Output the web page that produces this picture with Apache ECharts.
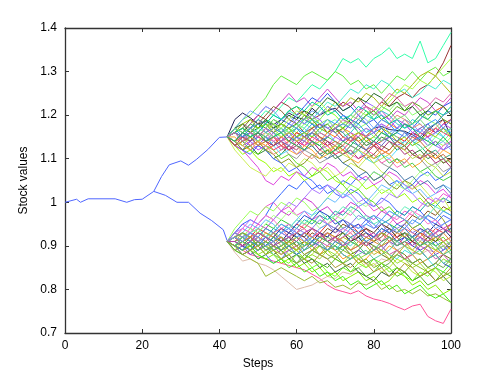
<!DOCTYPE html>
<html>
<head>
<meta charset="utf-8">
<script src="https://cdn.jsdelivr.net/npm/echarts@6/dist/echarts.min.js"></script>
<style>
  html, body { margin: 0; padding: 0; background: #fff; }
  #main { width: 498px; height: 375px; }
</style>
</head>
<body>
<div id="main"></div>
<script>
// trunk before the split (single blue path)
var trunkX = [0, 3, 4, 6, 13, 16, 18, 20, 23, 26, 29, 32, 35, 38, 41, 42];
var trunkY = [1.0, 1.007, 1.0, 1.008, 1.008, 1.0, 1.006, 1.007, 1.025, 1.016, 1.0, 1.0, 0.975, 0.958, 0.937, 0.912];
var branchX = [23, 25, 27, 30, 32, 34, 37, 40, 42];
var branchY = [1.025, 1.059, 1.086, 1.095, 1.085, 1.098, 1.121, 1.149, 1.15];

// steps of the simulated paths after the split
var steps = [42, 44, 46, 48, 50, 52, 54, 56, 58, 60, 62, 64, 66, 68, 70, 72, 74, 76, 78, 80, 82, 84, 86, 88, 90, 92, 94, 96, 98, 100];

var upperPaths = [
  [1.15,1.16,1.18,1.17,1.19,1.21,1.20,1.22,1.24,1.23,1.25,1.27,1.26,1.28,1.30,1.33,1.32,1.33,1.31,1.33,1.34,1.355,1.33,1.34,1.33,1.37,1.32,1.33,1.36,1.39],
  [1.15,1.17,1.19,1.20,1.22,1.24,1.27,1.29,1.28,1.27,1.29,1.30,1.29,1.28,1.30,1.29,1.27,1.28,1.26,1.27,1.25,1.27,1.29,1.28,1.30,1.28,1.30,1.31,1.29,1.30],
  [1.15,1.14,1.16,1.18,1.20,1.19,1.21,1.23,1.22,1.20,1.21,1.19,1.20,1.22,1.21,1.23,1.22,1.24,1.22,1.21,1.23,1.22,1.24,1.25,1.24,1.26,1.27,1.29,1.32,1.36],
  [1.15,1.19,1.205,1.194,1.18,1.185,1.178,1.19,1.205,1.195,1.19,1.216,1.20,1.21,1.216,1.20,1.183,1.16,1.151,1.17,1.174,1.167,1.165,1.163,1.155,1.144,1.165,1.18,1.19,1.151],
  [1.15,1.13,1.15,1.17,1.16,1.18,1.17,1.19,1.21,1.22,1.20,1.18,1.19,1.21,1.23,1.22,1.24,1.23,1.25,1.24,1.22,1.24,1.26,1.25,1.27,1.29,1.30,1.29,1.27,1.25],
  [1.15,1.17,1.16,1.18,1.20,1.22,1.21,1.23,1.25,1.23,1.24,1.22,1.24,1.26,1.24,1.22,1.23,1.21,1.22,1.20,1.21,1.19,1.21,1.20,1.22,1.24,1.23,1.21,1.22,1.24],
  [1.15,1.14,1.12,1.14,1.16,1.15,1.17,1.19,1.18,1.20,1.22,1.24,1.23,1.25,1.23,1.21,1.22,1.20,1.18,1.19,1.17,1.15,1.16,1.18,1.17,1.19,1.21,1.20,1.22,1.23],
  [1.15,1.16,1.14,1.15,1.13,1.14,1.16,1.15,1.17,1.16,1.18,1.17,1.19,1.21,1.20,1.18,1.19,1.17,1.18,1.20,1.22,1.21,1.23,1.22,1.20,1.21,1.19,1.18,1.20,1.21],
  [1.15,1.14,1.15,1.13,1.14,1.12,1.13,1.15,1.14,1.16,1.15,1.13,1.14,1.16,1.15,1.17,1.16,1.14,1.15,1.17,1.16,1.18,1.17,1.19,1.18,1.20,1.19,1.21,1.22,1.20],
  [1.15,1.13,1.14,1.16,1.15,1.17,1.15,1.16,1.14,1.15,1.17,1.19,1.18,1.16,1.17,1.15,1.16,1.18,1.20,1.19,1.21,1.20,1.18,1.17,1.19,1.18,1.16,1.17,1.15,1.17],
  [1.15,1.16,1.14,1.12,1.13,1.15,1.14,1.12,1.13,1.11,1.12,1.14,1.13,1.15,1.17,1.16,1.18,1.17,1.15,1.16,1.14,1.15,1.13,1.14,1.16,1.15,1.13,1.14,1.12,1.13],
  [1.15,1.13,1.12,1.13,1.11,1.12,1.10,1.11,1.13,1.12,1.14,1.13,1.11,1.12,1.10,1.11,1.13,1.12,1.14,1.13,1.15,1.14,1.12,1.13,1.11,1.12,1.10,1.11,1.09,1.10],
  [1.15,1.16,1.15,1.17,1.16,1.14,1.15,1.13,1.14,1.16,1.15,1.17,1.18,1.16,1.17,1.15,1.14,1.16,1.15,1.13,1.14,1.16,1.15,1.14,1.16,1.15,1.17,1.16,1.18,1.19],
  [1.15,1.14,1.16,1.15,1.13,1.12,1.14,1.13,1.11,1.10,1.12,1.11,1.09,1.10,1.12,1.11,1.13,1.12,1.10,1.11,1.09,1.08,1.10,1.09,1.11,1.10,1.08,1.09,1.07,1.08],
  [1.15,1.13,1.11,1.12,1.10,1.09,1.07,1.08,1.06,1.07,1.05,1.06,1.08,1.07,1.05,1.04,1.06,1.05,1.03,1.04,1.02,1.03,1.01,1.02,1.00,1.01,0.99,1.00,0.98,0.99],
  [1.15,1.13,1.12,1.10,1.08,1.05,1.04,1.06,1.05,1.07,1.06,1.08,1.07,1.09,1.08,1.06,1.07,1.05,1.06,1.04,1.05,1.07,1.06,1.04,1.03,1.05,1.04,1.02,1.03,1.01],
  [1.15,1.12,1.10,1.08,1.07,1.06,1.08,1.07,1.09,1.08,1.10,1.09,1.07,1.08,1.06,1.07,1.09,1.08,1.10,1.09,1.07,1.06,1.04,1.05,1.03,1.04,1.02,1.00,1.01,0.98],
  [1.15,1.14,1.12,1.11,1.13,1.12,1.10,1.09,1.07,1.08,1.06,1.05,1.03,1.04,1.02,1.01,1.03,1.02,1.00,0.99,1.01,1.00,0.98,0.97,0.99,0.98,0.96,0.95,0.97,0.96],
  [1.15,1.16,1.18,1.17,1.15,1.16,1.14,1.15,1.13,1.12,1.14,1.13,1.15,1.14,1.12,1.13,1.11,1.10,1.12,1.11,1.09,1.10,1.08,1.09,1.11,1.10,1.12,1.11,1.13,1.14],
  [1.15,1.17,1.16,1.18,1.17,1.19,1.18,1.16,1.17,1.15,1.16,1.14,1.13,1.15,1.14,1.12,1.11,1.13,1.12,1.10,1.11,1.09,1.10,1.08,1.09,1.07,1.08,1.06,1.05,1.06],
  [1.15,1.17,1.19,1.21,1.20,1.22,1.21,1.19,1.20,1.18,1.19,1.21,1.20,1.22,1.21,1.19,1.18,1.20,1.19,1.17,1.18,1.16,1.17,1.19,1.18,1.16,1.15,1.13,1.14,1.12],
  [1.15,1.16,1.17,1.19,1.18,1.20,1.22,1.21,1.19,1.18,1.16,1.17,1.15,1.14,1.12,1.13,1.11,1.12,1.10,1.11,1.13,1.12,1.14,1.13,1.11,1.10,1.12,1.11,1.09,1.10],
  [1.15,1.14,1.13,1.15,1.17,1.18,1.20,1.19,1.21,1.20,1.18,1.19,1.21,1.23,1.22,1.24,1.26,1.25,1.27,1.26,1.28,1.27,1.25,1.26,1.24,1.25,1.27,1.26,1.28,1.27],
  [1.15,1.16,1.14,1.13,1.15,1.14,1.16,1.18,1.17,1.19,1.18,1.20,1.19,1.17,1.18,1.20,1.19,1.21,1.23,1.22,1.20,1.19,1.17,1.18,1.16,1.14,1.15,1.13,1.12,1.14],
  [1.15,1.14,1.12,1.13,1.14,1.12,1.11,1.09,1.10,1.08,1.09,1.11,1.10,1.12,1.11,1.09,1.10,1.08,1.07,1.05,1.06,1.04,1.03,1.05,1.04,1.02,1.00,0.98,0.96,0.93],
  [1.15,1.13,1.14,1.12,1.11,1.13,1.12,1.10,1.11,1.09,1.08,1.06,1.07,1.05,1.06,1.04,1.02,1.03,1.01,1.00,0.98,0.99,0.97,0.96,0.94,0.95,0.93,0.91,0.92,0.90],
  [1.15,1.16,1.15,1.14,1.16,1.15,1.13,1.14,1.16,1.17,1.19,1.18,1.16,1.15,1.17,1.16,1.14,1.13,1.15,1.14,1.16,1.15,1.13,1.12,1.14,1.13,1.11,1.12,1.10,1.11],
  [1.15,1.17,1.18,1.16,1.17,1.19,1.17,1.18,1.20,1.19,1.21,1.20,1.22,1.24,1.23,1.21,1.22,1.24,1.23,1.25,1.24,1.22,1.23,1.21,1.22,1.20,1.21,1.23,1.22,1.20],
  [1.15,1.14,1.16,1.17,1.19,1.18,1.16,1.17,1.15,1.14,1.12,1.13,1.11,1.10,1.11,1.09,1.08,1.06,1.07,1.05,1.06,1.08,1.07,1.05,1.06,1.04,1.05,1.03,1.04,1.02],
  [1.15,1.13,1.15,1.16,1.14,1.16,1.18,1.17,1.19,1.21,1.20,1.22,1.23,1.21,1.20,1.18,1.19,1.21,1.20,1.22,1.21,1.23,1.25,1.27,1.26,1.28,1.27,1.29,1.31,1.33],
  [1.15,1.16,1.15,1.13,1.14,1.13,1.11,1.12,1.14,1.13,1.11,1.10,1.12,1.11,1.13,1.15,1.14,1.16,1.15,1.17,1.19,1.18,1.20,1.19,1.17,1.18,1.16,1.17,1.19,1.18],
  [1.15,1.14,1.15,1.17,1.16,1.14,1.13,1.11,1.12,1.14,1.16,1.15,1.17,1.16,1.14,1.13,1.11,1.12,1.10,1.09,1.11,1.10,1.12,1.14,1.13,1.15,1.14,1.16,1.15,1.17],
  [1.15,1.16,1.14,1.15,1.17,1.16,1.15,1.17,1.16,1.18,1.17,1.15,1.16,1.18,1.19,1.17,1.18,1.16,1.17,1.15,1.14,1.16,1.15,1.13,1.14,1.12,1.13,1.15,1.14,1.16],
  [1.15,1.14,1.13,1.14,1.12,1.13,1.15,1.14,1.16,1.15,1.13,1.14,1.12,1.13,1.15,1.14,1.16,1.15,1.17,1.16,1.18,1.17,1.19,1.18,1.16,1.17,1.15,1.16,1.18,1.17],
  [1.15,1.16,1.17,1.16,1.18,1.17,1.19,1.18,1.17,1.18,1.20,1.19,1.17,1.18,1.16,1.17,1.19,1.18,1.20,1.21,1.19,1.20,1.22,1.21,1.23,1.22,1.20,1.21,1.19,1.18],
  [1.15,1.14,1.15,1.16,1.15,1.14,1.12,1.13,1.12,1.14,1.13,1.15,1.14,1.13,1.11,1.12,1.14,1.15,1.13,1.14,1.12,1.11,1.13,1.12,1.14,1.16,1.15,1.17,1.16,1.15],
  [1.15,1.17,1.15,1.16,1.14,1.15,1.13,1.14,1.15,1.17,1.16,1.18,1.17,1.19,1.18,1.20,1.19,1.18,1.16,1.17,1.19,1.18,1.16,1.15,1.17,1.16,1.18,1.19,1.17,1.16],
  [1.15,1.16,1.18,1.19,1.17,1.18,1.16,1.18,1.17,1.15,1.16,1.15,1.17,1.16,1.18,1.17,1.15,1.16,1.14,1.15,1.17,1.16,1.14,1.15,1.13,1.14,1.16,1.15,1.17,1.15],
  [1.15,1.13,1.14,1.15,1.13,1.14,1.13,1.15,1.16,1.14,1.15,1.16,1.15,1.13,1.14,1.13,1.15,1.14,1.12,1.13,1.11,1.12,1.14,1.13,1.15,1.14,1.12,1.10,1.11,1.09],
  [1.15,1.16,1.17,1.15,1.16,1.18,1.20,1.19,1.21,1.22,1.21,1.23,1.22,1.20,1.21,1.19,1.20,1.22,1.21,1.19,1.20,1.18,1.19,1.17,1.18,1.20,1.19,1.21,1.20,1.22],
  [1.15,1.14,1.16,1.14,1.15,1.17,1.16,1.14,1.13,1.15,1.14,1.16,1.18,1.17,1.16,1.14,1.15,1.13,1.12,1.14,1.13,1.15,1.14,1.16,1.15,1.17,1.18,1.16,1.17,1.19],
  [1.15,1.15,1.13,1.12,1.14,1.13,1.15,1.14,1.12,1.11,1.13,1.12,1.10,1.11,1.13,1.12,1.10,1.09,1.11,1.10,1.12,1.11,1.09,1.10,1.08,1.09,1.11,1.10,1.12,1.11],
  [1.15,1.17,1.16,1.17,1.15,1.17,1.19,1.18,1.16,1.17,1.19,1.20,1.18,1.19,1.17,1.18,1.20,1.19,1.21,1.20,1.22,1.21,1.19,1.20,1.18,1.19,1.17,1.18,1.16,1.17],
  [1.15,1.13,1.15,1.14,1.16,1.14,1.13,1.14,1.12,1.13,1.15,1.14,1.12,1.14,1.13,1.11,1.12,1.10,1.11,1.13,1.12,1.14,1.13,1.11,1.12,1.10,1.11,1.09,1.10,1.08],
  [1.15,1.16,1.15,1.17,1.18,1.16,1.17,1.16,1.18,1.17,1.15,1.16,1.14,1.15,1.17,1.18,1.17,1.19,1.18,1.16,1.17,1.15,1.17,1.16,1.14,1.15,1.17,1.18,1.20,1.21],
  [1.15,1.14,1.13,1.15,1.14,1.15,1.17,1.15,1.16,1.14,1.15,1.13,1.14,1.12,1.13,1.11,1.10,1.12,1.11,1.09,1.10,1.11,1.13,1.12,1.10,1.11,1.09,1.08,1.06,1.07],
  [1.15,1.16,1.14,1.16,1.15,1.17,1.15,1.14,1.15,1.13,1.12,1.14,1.16,1.15,1.17,1.19,1.18,1.20,1.22,1.21,1.23,1.25,1.24,1.22,1.23,1.21,1.22,1.24,1.23,1.25],
  [1.15,1.14,1.16,1.15,1.16,1.14,1.15,1.16,1.14,1.13,1.12,1.14,1.13,1.11,1.12,1.14,1.13,1.15,1.13,1.14,1.16,1.15,1.16,1.18,1.17,1.15,1.14,1.13,1.15,1.13]
];

var lowerPaths = [
  [0.91,0.90,0.89,0.88,0.875,0.87,0.865,0.86,0.855,0.85,0.845,0.835,0.825,0.81,0.80,0.795,0.79,0.797,0.785,0.778,0.774,0.768,0.76,0.753,0.762,0.766,0.738,0.728,0.722,0.755],
  [0.91,0.885,0.865,0.87,0.86,0.855,0.845,0.83,0.815,0.80,0.805,0.81,0.82,0.83,0.825,0.84,0.835,0.85,0.86,0.855,0.87,0.865,0.88,0.87,0.885,0.88,0.89,0.885,0.90,0.895],
  [0.91,0.89,0.88,0.87,0.86,0.83,0.84,0.85,0.84,0.83,0.82,0.83,0.815,0.82,0.805,0.81,0.80,0.815,0.81,0.82,0.80,0.81,0.795,0.80,0.79,0.80,0.785,0.79,0.78,0.77],
  [0.91,0.90,0.89,0.90,0.88,0.87,0.88,0.86,0.87,0.85,0.86,0.84,0.85,0.83,0.84,0.82,0.83,0.84,0.82,0.83,0.81,0.82,0.84,0.83,0.81,0.82,0.80,0.81,0.79,0.80],
  [0.91,0.92,0.90,0.91,0.89,0.90,0.88,0.89,0.87,0.88,0.86,0.87,0.85,0.86,0.84,0.85,0.86,0.84,0.83,0.82,0.84,0.83,0.85,0.84,0.82,0.83,0.84,0.82,0.83,0.81],
  [0.91,0.93,0.95,0.94,0.97,0.99,1.00,0.98,0.99,0.97,0.98,0.96,0.97,0.95,0.96,0.98,0.97,0.99,1.00,0.98,0.99,0.97,0.96,0.98,0.97,0.99,1.01,1.00,1.02,1.01],
  [0.91,0.93,0.95,0.96,0.95,0.97,1.00,1.02,1.04,1.03,1.05,1.03,1.04,1.02,1.03,1.05,1.04,1.06,1.05,1.07,1.06,1.04,1.05,1.03,1.04,1.06,1.07,1.05,1.06,1.08],
  [0.91,0.94,0.96,0.98,0.97,0.99,0.98,1.00,0.99,1.01,1.00,0.98,0.99,1.01,1.03,1.02,1.04,1.03,1.05,1.07,1.06,1.08,1.10,1.09,1.11,1.10,1.12,1.14,1.13,1.15],
  [0.91,0.92,0.94,0.93,0.95,0.94,0.96,0.98,0.97,0.99,1.01,1.00,0.98,0.99,0.97,0.98,1.00,0.99,0.97,0.96,0.98,0.97,0.95,0.96,0.94,0.95,0.97,0.96,0.94,0.95],
  [0.91,0.92,0.91,0.93,0.92,0.94,0.93,0.91,0.92,0.90,0.91,0.93,0.92,0.94,0.93,0.95,0.94,0.92,0.93,0.91,0.92,0.94,0.93,0.95,0.97,0.96,0.98,0.97,0.99,0.98],
  [0.91,0.90,0.92,0.91,0.93,0.92,0.91,0.92,0.90,0.89,0.91,0.90,0.92,0.91,0.89,0.90,0.88,0.89,0.91,0.90,0.88,0.87,0.89,0.88,0.86,0.87,0.85,0.86,0.88,0.87],
  [0.91,0.89,0.90,0.88,0.89,0.91,0.90,0.92,0.91,0.93,0.92,0.90,0.91,0.89,0.90,0.88,0.87,0.89,0.88,0.90,0.89,0.91,0.90,0.92,0.91,0.89,0.90,0.88,0.89,0.91],
  [0.91,0.92,0.91,0.90,0.89,0.90,0.88,0.87,0.88,0.86,0.87,0.89,0.88,0.90,0.89,0.91,0.90,0.92,0.91,0.89,0.90,0.88,0.87,0.89,0.88,0.86,0.87,0.85,0.84,0.86],
  [0.91,0.93,0.92,0.94,0.93,0.95,0.94,0.96,0.95,0.93,0.94,0.96,0.95,0.97,0.96,0.94,0.95,0.93,0.94,0.92,0.93,0.95,0.94,0.92,0.91,0.93,0.92,0.90,0.91,0.89],
  [0.91,0.90,0.88,0.89,0.87,0.88,0.86,0.87,0.89,0.88,0.90,0.91,0.93,0.92,0.94,0.93,0.95,0.94,0.96,0.95,0.93,0.94,0.92,0.93,0.91,0.92,0.90,0.91,0.89,0.90],
  [0.91,0.92,0.93,0.92,0.94,0.93,0.92,0.94,0.93,0.95,0.94,0.92,0.93,0.95,0.94,0.96,0.95,0.93,0.94,0.92,0.93,0.91,0.92,0.90,0.91,0.93,0.92,0.94,0.93,0.95],
  [0.91,0.89,0.91,0.90,0.92,0.91,0.89,0.90,0.88,0.89,0.87,0.88,0.90,0.89,0.87,0.86,0.88,0.87,0.85,0.86,0.84,0.85,0.87,0.86,0.84,0.83,0.85,0.84,0.82,0.83],
  [0.91,0.92,0.90,0.91,0.93,0.92,0.94,0.93,0.95,0.94,0.96,0.95,0.97,0.96,0.98,0.97,0.99,0.98,0.96,0.97,0.95,0.96,0.98,0.97,0.99,0.98,1.00,0.99,1.01,1.00],
  [0.91,0.90,0.91,0.89,0.90,0.92,0.91,0.93,0.92,0.91,0.89,0.90,0.88,0.89,0.91,0.90,0.92,0.91,0.93,0.92,0.90,0.91,0.89,0.90,0.92,0.91,0.93,0.92,0.90,0.91],
  [0.91,0.93,0.94,0.96,0.95,0.97,0.96,0.98,1.00,0.99,1.01,1.03,1.02,1.04,1.03,1.01,1.02,1.00,1.01,0.99,1.00,1.02,1.01,1.03,1.02,1.00,0.99,1.01,1.00,1.02],
  [0.91,0.92,0.90,0.91,0.89,0.90,0.91,0.89,0.90,0.92,0.91,0.89,0.88,0.90,0.89,0.87,0.88,0.86,0.87,0.89,0.88,0.90,0.89,0.87,0.88,0.86,0.87,0.89,0.88,0.90],
  [0.91,0.90,0.92,0.94,0.93,0.95,0.97,0.96,0.98,0.97,0.95,0.96,0.94,0.95,0.97,0.96,0.98,1.00,0.99,1.01,1.03,1.02,1.04,1.03,1.05,1.07,1.06,1.08,1.10,1.09],
  [0.91,0.91,0.90,0.92,0.91,0.90,0.92,0.91,0.93,0.92,0.90,0.91,0.93,0.92,0.94,0.93,0.91,0.92,0.90,0.91,0.93,0.92,0.91,0.93,0.92,0.94,0.93,0.95,0.94,0.92],
  [0.91,0.89,0.88,0.89,0.87,0.88,0.90,0.89,0.87,0.86,0.88,0.87,0.86,0.85,0.87,0.86,0.84,0.85,0.83,0.84,0.86,0.85,0.83,0.84,0.82,0.83,0.81,0.82,0.84,0.83],
  [0.91,0.92,0.94,0.93,0.95,0.97,0.96,0.94,0.95,0.93,0.94,0.92,0.93,0.91,0.92,0.94,0.93,0.95,0.94,0.92,0.93,0.95,0.97,0.96,0.98,0.97,0.95,0.96,0.94,0.93],
  [0.91,0.90,0.89,0.91,0.90,0.88,0.89,0.87,0.86,0.88,0.87,0.85,0.86,0.84,0.83,0.85,0.84,0.86,0.85,0.87,0.86,0.84,0.85,0.83,0.82,0.84,0.83,0.85,0.84,0.86],
  [0.91,0.92,0.93,0.95,0.94,0.96,0.95,0.93,0.94,0.96,0.98,0.97,0.99,1.01,1.00,1.02,1.01,0.99,1.00,1.02,1.04,1.03,1.05,1.04,1.02,1.03,1.01,1.02,1.04,1.03],
  [0.91,0.90,0.91,0.92,0.90,0.91,0.89,0.90,0.91,0.93,0.92,0.94,0.93,0.91,0.92,0.93,0.91,0.92,0.94,0.93,0.95,0.94,0.92,0.93,0.91,0.90,0.92,0.91,0.93,0.94],
  [0.91,0.92,0.91,0.93,0.94,0.92,0.93,0.95,0.94,0.96,0.95,0.97,0.98,0.96,0.97,0.99,0.98,0.96,0.97,0.95,0.96,0.98,0.97,0.99,0.98,0.96,0.97,0.99,0.98,0.97],
  [0.91,0.90,0.89,0.90,0.88,0.87,0.86,0.87,0.85,0.86,0.84,0.85,0.83,0.84,0.82,0.83,0.81,0.82,0.80,0.81,0.82,0.80,0.81,0.79,0.80,0.81,0.79,0.78,0.79,0.77],
  [0.91,0.92,0.90,0.89,0.91,0.90,0.92,0.94,0.93,0.95,0.97,0.96,0.98,0.97,0.95,0.96,0.94,0.95,0.93,0.92,0.94,0.93,0.91,0.92,0.90,0.89,0.87,0.88,0.86,0.85],
  [0.91,0.91,0.93,0.92,0.91,0.93,0.92,0.90,0.91,0.89,0.90,0.92,0.91,0.93,0.92,0.90,0.89,0.91,0.90,0.88,0.89,0.87,0.88,0.90,0.89,0.91,0.90,0.92,0.91,0.89],
  [0.91,0.92,0.91,0.90,0.92,0.91,0.93,0.92,0.91,0.92,0.90,0.91,0.90,0.92,0.91,0.93,0.92,0.90,0.91,0.89,0.90,0.92,0.91,0.93,0.92,0.90,0.91,0.89,0.90,0.88],
  [0.91,0.90,0.91,0.92,0.91,0.89,0.90,0.88,0.89,0.90,0.88,0.89,0.91,0.90,0.92,0.91,0.89,0.90,0.91,0.89,0.90,0.88,0.89,0.87,0.88,0.90,0.89,0.87,0.88,0.86],
  [0.91,0.92,0.93,0.91,0.92,0.94,0.93,0.95,0.94,0.92,0.93,0.91,0.92,0.93,0.91,0.92,0.94,0.93,0.95,0.94,0.96,0.95,0.93,0.94,0.96,0.95,0.97,0.96,0.98,0.97],
  [0.91,0.90,0.89,0.90,0.91,0.90,0.89,0.88,0.90,0.89,0.91,0.90,0.88,0.89,0.90,0.92,0.91,0.90,0.92,0.91,0.93,0.92,0.90,0.91,0.89,0.88,0.90,0.89,0.91,0.92],
  [0.91,0.91,0.92,0.90,0.91,0.89,0.90,0.91,0.89,0.88,0.87,0.89,0.88,0.87,0.88,0.86,0.87,0.88,0.86,0.87,0.85,0.86,0.88,0.87,0.86,0.87,0.85,0.86,0.85,0.87],
  [0.91,0.92,0.90,0.91,0.92,0.91,0.93,0.94,0.92,0.93,0.95,0.94,0.92,0.93,0.91,0.92,0.93,0.91,0.90,0.92,0.91,0.93,0.92,0.94,0.93,0.92,0.94,0.93,0.91,0.92],
  [0.91,0.90,0.92,0.91,0.90,0.91,0.89,0.90,0.92,0.91,0.90,0.92,0.91,0.89,0.90,0.88,0.87,0.88,0.89,0.87,0.88,0.89,0.91,0.90,0.88,0.89,0.87,0.88,0.86,0.87],
  [0.91,0.93,0.92,0.93,0.91,0.92,0.91,0.93,0.92,0.94,0.93,0.94,0.96,0.95,0.93,0.94,0.95,0.97,0.96,0.94,0.95,0.93,0.94,0.95,0.93,0.94,0.92,0.93,0.95,0.96],
  [0.91,0.90,0.91,0.89,0.88,0.89,0.88,0.87,0.88,0.89,0.87,0.88,0.87,0.89,0.88,0.90,0.89,0.87,0.88,0.90,0.89,0.88,0.86,0.87,0.85,0.86,0.84,0.85,0.87,0.86],
  [0.91,0.92,0.91,0.92,0.93,0.92,0.91,0.92,0.90,0.91,0.93,0.92,0.91,0.93,0.92,0.91,0.89,0.90,0.92,0.91,0.90,0.91,0.93,0.92,0.94,0.93,0.91,0.92,0.93,0.91],
  [0.91,0.90,0.89,0.91,0.90,0.92,0.91,0.89,0.90,0.88,0.89,0.91,0.90,0.89,0.91,0.90,0.92,0.93,0.91,0.92,0.94,0.93,0.95,0.94,0.92,0.93,0.94,0.92,0.93,0.94],
  [0.91,0.92,0.93,0.92,0.90,0.91,0.90,0.89,0.91,0.90,0.88,0.89,0.90,0.88,0.87,0.89,0.88,0.86,0.87,0.85,0.86,0.87,0.85,0.84,0.86,0.85,0.84,0.85,0.83,0.84],
  [0.91,0.91,0.90,0.91,0.93,0.92,0.90,0.91,0.92,0.91,0.93,0.94,0.93,0.91,0.92,0.90,0.91,0.93,0.92,0.93,0.91,0.92,0.90,0.91,0.90,0.92,0.91,0.93,0.94,0.93],
  [0.91,0.90,0.91,0.90,0.89,0.90,0.92,0.91,0.90,0.91,0.89,0.90,0.92,0.91,0.90,0.89,0.91,0.90,0.88,0.89,0.91,0.92,0.90,0.91,0.92,0.90,0.91,0.90,0.88,0.89],
  [0.91,0.92,0.91,0.93,0.92,0.90,0.91,0.93,0.94,0.93,0.91,0.92,0.94,0.95,0.94,0.96,0.95,0.94,0.95,0.97,0.96,0.98,0.97,0.96,0.95,0.97,0.96,0.94,0.95,0.96],
  [0.91,0.90,0.88,0.89,0.90,0.88,0.89,0.87,0.88,0.86,0.87,0.86,0.88,0.87,0.85,0.86,0.85,0.87,0.86,0.84,0.85,0.83,0.84,0.86,0.85,0.83,0.84,0.82,0.83,0.85]
];

var upperColors = ['#33ffaa','#66ee44','#993333','#222255','#aabb11','#cc44cc','#3355ee','#88ff66',
  '#ff8811','#33cccc','#8855dd','#338833','#ee2222','#999999','#99ff00','#dd44dd',
  '#ccee55','#4466ff','#ff66bb','#44cc44','#77aaff','#886633','#44eecc','#9966ff',
  '#889922','#66dd22','#33aa88','#226622','#4477aa','#aaff44','#ee8877','#55ddff',
  '#66ff99','#bb55ee','#55aa11','#ff3366','#3399ff','#99cc00','#cc6633','#00cc99',
  '#6666cc','#ffaa33','#77dd77','#aa3377','#4488dd','#bbdd44','#dd66aa','#22bb55'];
var lowerColors = ['#ff5599','#ddbbaa','#99bb33','#88ee00','#336633','#ee55cc','#3366ff','#99ff55',
  '#cc33cc','#885522','#667711','#7744cc','#44dddd','#33cc33','#5577ee','#ee3333',
  '#bbee33','#22aaaa','#aaaaaa','#aa77ff','#ff9922','#aaff88','#222277','#55bb22',
  '#ff77cc','#77ff22','#66bbff','#553311','#66eebb','#44ee11','#2244cc','#bbbb22',
  '#77cc55','#cc55aa','#4499ee','#aacc11','#66aa44','#ee6688','#55cc99','#8877ee',
  '#99dd33','#dd8833','#3388cc','#88bb22','#bb44aa','#44bb77','#6699ff','#aa9933'];

var xTicks = [0, 20, 40, 60, 80, 100];
var yTicks = [0.7, 0.8, 0.9, 1.0, 1.1, 1.2, 1.3, 1.4];

function pairs(xs, ys) {
  return xs.map(function (x, i) { return [x, ys[i]]; });
}
function line(data, color, axisIdx) {
  return {
    type: 'line', data: data, symbol: 'none', silent: true,
    xAxisIndex: axisIdx || 0, yAxisIndex: axisIdx || 0,
    lineStyle: { width: 1, color: color }
  };
}

var series = [];
// trunk is bound to the top/right axes so those get drawn too (same scales)
series.push(line(pairs(trunkX, trunkY), '#4f66ff', 1));
series.push(line(pairs(branchX, branchY), '#4f66ff'));
// interleave the two branches so neither sits fully on top
for (var i = 0; i < Math.max(upperPaths.length, lowerPaths.length); i++) {
  if (upperPaths[i]) series.push(line(pairs(steps, upperPaths[i]), upperColors[i % upperColors.length]));
  if (lowerPaths[i]) series.push(line(pairs(steps, lowerPaths[i]), lowerColors[i % lowerColors.length]));
}

var axisFont = { color: '#000', fontFamily: 'Liberation Sans', fontSize: 12 };
var boxLine = { show: true, onZero: false, lineStyle: { color: '#333', width: 1.3 } };
var inTick = { show: true, inside: true, length: 4, lineStyle: { color: '#333' } };

var myChart = echarts.init(document.getElementById('main'));
var option = {
  animation: false,
  grid: { left: 65, right: 47, top: 28, bottom: 42 },
  xAxis: [{
    type: 'value', min: xTicks[0], max: xTicks[xTicks.length - 1], interval: 20,
    name: 'Steps', nameLocation: 'middle', nameGap: 25,
    nameTextStyle: axisFont,
    axisLine: boxLine, axisTick: inTick, splitLine: { show: false },
    axisLabel: Object.assign({ margin: 7 }, axisFont)
  }, {
    type: 'value', position: 'top', min: xTicks[0], max: xTicks[xTicks.length - 1], interval: 20,
    axisLine: boxLine, axisTick: inTick, splitLine: { show: false }, axisLabel: { show: false }
  }],
  yAxis: [{
    type: 'value', min: yTicks[0], max: yTicks[yTicks.length - 1], interval: 0.1,
    name: 'Stock values', nameLocation: 'middle', nameGap: 33, nameRotate: 90,
    nameTextStyle: axisFont,
    axisLine: boxLine, axisTick: inTick, splitLine: { show: false },
    axisLabel: Object.assign({ margin: 8, formatter: function (v) { return String(+v.toFixed(1)); } }, axisFont)
  }, {
    type: 'value', position: 'right', min: yTicks[0], max: yTicks[yTicks.length - 1], interval: 0.1,
    axisLine: boxLine, axisTick: inTick, splitLine: { show: false }, axisLabel: { show: false }
  }],
  series: series
};
myChart.setOption(option);
</script>
</body>
</html>
